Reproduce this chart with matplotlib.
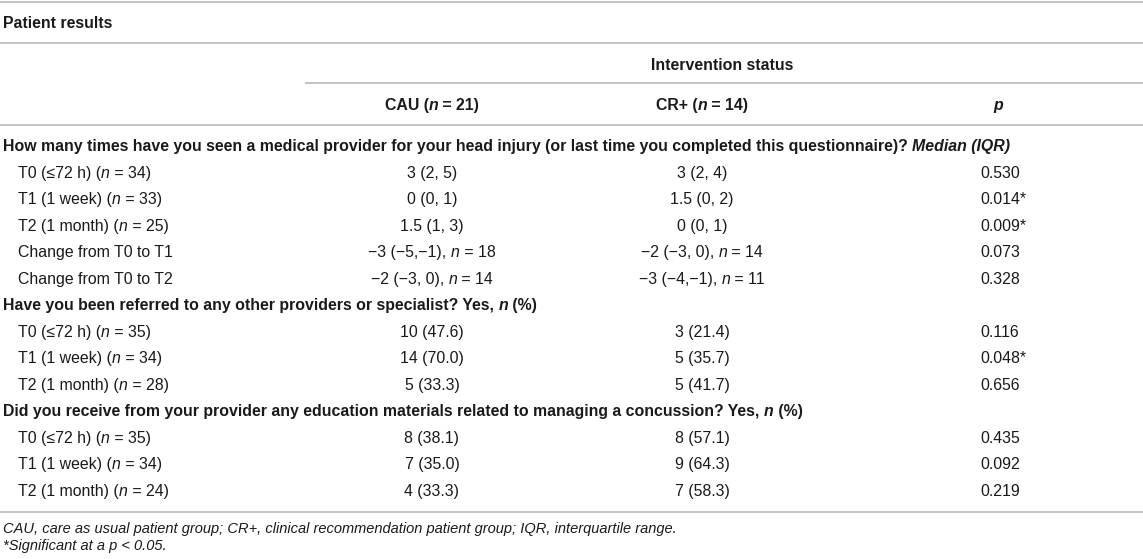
import matplotlib
matplotlib.use("Agg")
import matplotlib.pyplot as plt

plt.rcParams['font.family'] = ['Liberation Sans', 'DejaVu Sans']

# table content; |...| marks italic pieces
table_title = "Patient results"
spanner = "Intervention status"
col_heads = ["CAU (|n| = 21)", "CR+ (|n| = 14)", "|p|"]

sections = [
    "How many times have you seen a medical provider for your head injury (or last time you completed this questionnaire)? |Median (IQR)|",
    "Have you been referred to any other providers or specialist? Yes, |n| (%)",
    "Did you receive from your provider any education materials related to managing a concussion? Yes, |n| (%)",
]
row_labels = [
    ["T0 (≤72 h) (|n| = 34)", "T1 (1 week) (|n| = 33)", "T2 (1 month) (|n| = 25)",
     "Change from T0 to T1", "Change from T0 to T2"],
    ["T0 (≤72 h) (|n| = 35)", "T1 (1 week) (|n| = 34)", "T2 (1 month) (|n| = 28)"],
    ["T0 (≤72 h) (|n| = 35)", "T1 (1 week) (|n| = 34)", "T2 (1 month) (|n| = 24)"],
]
cau_vals = [
    ["3 (2, 5)", "0 (0, 1)", "1.5 (1, 3)", "−3 (−5,−1), |n| = 18", "−2 (−3, 0), |n| = 14"],
    ["10 (47.6)", "14 (70.0)", "5 (33.3)"],
    ["8 (38.1)", "7 (35.0)", "4 (33.3)"],
]
cr_vals = [
    ["3 (2, 4)", "1.5 (0, 2)", "0 (0, 1)", "−2 (−3, 0), |n| = 14", "−3 (−4,−1), |n| = 11"],
    ["3 (21.4)", "5 (35.7)", "5 (41.7)"],
    ["8 (57.1)", "9 (64.3)", "7 (58.3)"],
]
p_vals = [
    ["0.530", "0.014*", "0.009*", "0.073", "0.328"],
    ["0.116", "0.048*", "0.656"],
    ["0.435", "0.092", "0.219"],
]
footnotes = [
    "CAU, care as usual patient group; CR+, clinical recommendation patient group; IQR, interquartile range.",
    "*Significant at a p < 0.05.",
]

W, H = 1143, 559
fig = plt.figure(figsize=(W / 100, H / 100), dpi=100)
ax = fig.add_axes([0, 0, 1, 1])
ax.set_xlim(0, W)
ax.set_ylim(H, 0)
ax.axis('off')
renderer = fig.canvas.get_renderer()

TXT = '#1a1a1a'
LINE = '#b8b8b8'
FS = 11.4


def rich(x, y, s, ha='left', bold=False, size=FS):
    # split on | and alternate upright / italic, all on one baseline
    pieces = s.split('|')
    arts = []
    base = y + size * 0.5
    for i, p in enumerate(pieces):
        if not p:
            continue
        t = ax.text(0, base, p, fontsize=size, color=TXT, va='baseline', ha='left',
                    fontweight='bold' if bold else 'normal',
                    fontstyle='italic' if i % 2 else 'normal')
        arts.append(t)
    widths = [a.get_window_extent(renderer).width for a in arts]
    total = sum(widths)
    x0 = x - total / 2 if ha == 'center' else x
    for a, w in zip(arts, widths):
        a.set_x(x0)
        x0 += w


def hline(y, x0=0, x1=W):
    ax.plot([x0, x1], [y, y], color=LINE, lw=1.2, solid_capstyle='butt')


cx = [432, 702, 998]

hline(2)
rich(3, 22, table_title, bold=True)
hline(43)
rich(722, 64, spanner, ha='center', bold=True)
hline(83, 305, W)
for c, h in zip(cx, col_heads):
    rich(c, 104, h, ha='center', bold=True)
hline(125)

y = 145.5
step = 26.5
for s, labs, a, b, pv in zip(sections, row_labels, cau_vals, cr_vals, p_vals):
    rich(3, y, s, bold=True)
    y += step
    for lab, va, vb, p in zip(labs, a, b, pv):
        rich(18, y, lab)
        rich(cx[0], y, va, ha='center')
        rich(cx[1], y, vb, ha='center')
        rich(cx[2] - 18, y, p)
        y += step

hline(512)
rich(3, 528, '|' + footnotes[0] + '|', size=10.5)
rich(3, 545, '|' + footnotes[1] + '|', size=10.5)

fig.savefig('out.png', dpi=100)
